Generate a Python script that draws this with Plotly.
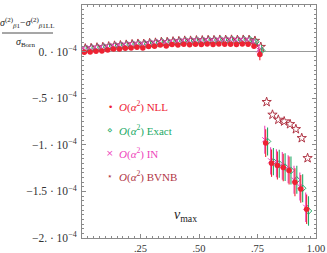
import plotly.graph_objects as go

# v_max bins (bin centres)
V_MAX = [0.01 + 0.025 * k for k in range(39)]

# relative difference, in units of 1e-4
NLL = [-0.007, -0.004, 0.004, 0.007, 0.018, 0.029, 0.029, 0.036, 0.039, 0.047,
       0.039, 0.054, 0.057, 0.072, 0.061, 0.075, 0.072, 0.078, 0.074, 0.080,
       0.076, 0.081, 0.077, 0.082, 0.079, 0.080, 0.076, 0.081, 0.078, 0.057,
       -0.032,
       -0.982, -1.197, -1.222, -1.244, -1.276, -1.401, -1.473, -1.691]
EXACT = [0.036, 0.040, 0.046, 0.050, 0.058, 0.066, 0.069, 0.076, 0.080, 0.086,
         0.084, 0.093, 0.097, 0.105, 0.104, 0.110, 0.114, 0.119, 0.118, 0.123,
         0.122, 0.126, 0.124, 0.129, 0.127, 0.130, 0.126, 0.129, 0.128, 0.105,
         0.012,
         -0.964, -1.180, -1.204, -1.240, -1.276, -1.376, -1.466, -1.710]
IN = [0.039, 0.043, 0.048, 0.053, 0.060, 0.068, 0.072, 0.078, 0.083, 0.088,
      0.087, 0.095, 0.100, 0.107, 0.107, 0.113, 0.116, 0.121, 0.121, 0.125,
      0.125, 0.128, 0.127, 0.131, 0.130, 0.132, 0.129, 0.131, 0.130, 0.110,
      0.018,
      -0.946, -1.172, -1.197, -1.226, -1.262, -1.376, -1.448, -1.670]
BVNB = [0.033, 0.037, 0.043, 0.048, 0.055, 0.063, 0.067, 0.073, 0.078, 0.083,
        0.082, 0.090, 0.095, 0.102, 0.102, 0.108, 0.111, 0.116, 0.116, 0.120,
        0.120, 0.123, 0.122, 0.126, 0.125, 0.127, 0.124, 0.126, 0.125, 0.115,
        0.050,
        -0.541, -0.677, -0.731, -0.749, -0.778, -0.832, -0.928, -1.143]
ERR = [0.012, 0.012, 0.012, 0.012, 0.012, 0.012, 0.012, 0.012, 0.012, 0.012,
       0.012, 0.012, 0.012, 0.012, 0.012, 0.012, 0.012, 0.012, 0.012, 0.012,
       0.012, 0.012, 0.012, 0.012, 0.012, 0.012, 0.012, 0.012, 0.015, 0.025,
       0.060,
       0.150, 0.147, 0.150, 0.148, 0.150, 0.150, 0.150, 0.158]

Y_TICKS = [0.5, 0.0, -0.5, -1.0, -1.5, -2.0]
Y_LABELS = [".5 · 10<sup>−4</sup>", "0. · 10<sup>−4</sup>", "−.5 · 10<sup>−4</sup>",
            "−1. · 10<sup>−4</sup>", "−1.5 · 10<sup>−4</sup>", "−2. · 10<sup>−4</sup>"]
X_TICKS = [0.25, 0.5, 0.75, 1.0]
X_LABELS = [".25", ".50", ".75", "1.00"]

RED = "#ee2233"
GREEN = "#22aa66"
PINK = "#ee44bb"
DARKRED = "#b03545"
AXIS = "#8a8a8a"
FONT = "Liberation Serif"

W, H = 327, 253
L, R, T, B = 82, 11, 5, 15
PW, PH = W - L - R, H - T - B


def px_to_paper(xp, yp):
    # pixel position (from top-left of the page) -> paper coordinates
    return (xp - L) / PW, 1 - (yp - T) / PH


def shifted(dx):
    return [v + dx for v in V_MAX]


fig = go.Figure()

fig.add_trace(go.Scatter(
    x=shifted(0.004), y=BVNB, mode="markers",
    marker=dict(symbol="star-open", size=7, color=DARKRED, line=dict(width=1)),
))
fig.add_trace(go.Scatter(
    x=shifted(0.008), y=EXACT, mode="markers",
    error_y=dict(type="data", array=ERR, color=GREEN, thickness=1.1, width=0),
    marker=dict(symbol="diamond-open", size=5, color=GREEN, line=dict(width=1)),
))
fig.add_trace(go.Scatter(
    x=shifted(-0.004), y=IN, mode="markers",
    error_y=dict(type="data", array=ERR, color=PINK, thickness=1.1, width=0),
    marker=dict(symbol="x-thin-open", size=5, color=PINK, line=dict(width=1, color=PINK)),
))
fig.add_trace(go.Scatter(
    x=V_MAX, y=NLL, mode="markers",
    error_y=dict(type="data", array=ERR, color=RED, thickness=1.1, width=0),
    marker=dict(symbol="circle", size=5.5, color=RED),
))

axis_common = dict(
    showline=True, linecolor=AXIS, linewidth=1, mirror="allticks",
    ticks="inside", ticklen=4, tickcolor=AXIS, showgrid=False, automargin=False,
)
fig.update_xaxes(
    range=[0, 1], tickvals=X_TICKS, ticktext=X_LABELS, zeroline=False,
    tickfont=dict(family=FONT, size=10.5, color="#333"), ticklabelstandoff=0,
    minor=dict(ticks="inside", ticklen=2, dtick=0.025, tick0=0, tickcolor=AXIS),
    **axis_common,
)
fig.update_yaxes(
    range=[-2.0, 0.5], tickvals=Y_TICKS, ticktext=Y_LABELS,
    tickfont=dict(family=FONT, size=11.5, color="#333"),
    zeroline=True, zerolinecolor="#999999", zerolinewidth=1, ticklabelstandoff=2,
    minor=dict(ticks="inside", ticklen=2, dtick=0.05, tick0=0, tickcolor=AXIS),
    **axis_common,
)

legend_rows = [
    ("•", "NLL", RED, 107),
    ("⋄", "Exact", GREEN, 130),
    ("×", "IN", PINK, 153),
    ("⋆", "BVNB", DARKRED, 176),
]
annotations = []
for sym, label, color, ypx in legend_rows:
    mx, my = px_to_paper(110, ypx)
    annotations.append(dict(
        x=mx, y=my, xref="paper", yref="paper",
        xanchor="center", yanchor="middle", showarrow=False,
        text=sym, font=dict(family="DejaVu Sans", size=9, color=color),
    ))
    tx, ty = px_to_paper(117, ypx)
    annotations.append(dict(
        x=tx, y=ty, xref="paper", yref="paper",
        xanchor="left", yanchor="middle", showarrow=False,
        text=f"<i>O</i>(<i>α</i><sup>2</sup>) {label}",
        font=dict(family=FONT, size=11, color=color),
    ))

# x-axis label inside the frame
ax, ay = px_to_paper(185, 226)
annotations.append(dict(
    x=ax, y=ay, xref="paper", yref="paper", showarrow=False,
    text="<i>v</i><sub>max</sub>", font=dict(family=FONT, size=14, color="#222"),
))

# y-axis label as a stacked fraction in the top-left corner
ax, ay = px_to_paper(27, 32)
annotations.append(dict(
    x=ax, y=ay, xref="paper", yref="paper", showarrow=False,
    xanchor="center", yanchor="bottom",
    text="<i>σ</i><sup>(2)</sup><sub><i>β</i>1</sub>−<i>σ</i><sup>(2)</sup><sub><i>β</i>1LL</sub>",
    font=dict(family=FONT, size=10, color="#222"),
))
ax, ay = px_to_paper(25, 34)
annotations.append(dict(
    x=ax, y=ay, xref="paper", yref="paper", showarrow=False,
    xanchor="center", yanchor="top",
    text="<i>σ</i><sub>Born</sub>",
    font=dict(family=FONT, size=10, color="#222"),
))
lx0, ly = px_to_paper(2, 33)
lx1, _ = px_to_paper(53, 33)

fig.update_layout(
    width=W, height=H,
    margin=dict(l=L, r=R, t=T, b=B, autoexpand=False),
    paper_bgcolor="white", plot_bgcolor="white",
    showlegend=False,
    annotations=annotations,
    shapes=[dict(
        type="line", xref="paper", yref="paper",
        x0=lx0, x1=lx1, y0=ly, y1=ly,
        line=dict(color="#222", width=0.8),
    )],
)

# drop the default page margin so the figure sits at the window's corner
fig.write_html(
    "out.html",
    config={"displayModeBar": False},
    post_script="document.body.style.margin='0';",
)
